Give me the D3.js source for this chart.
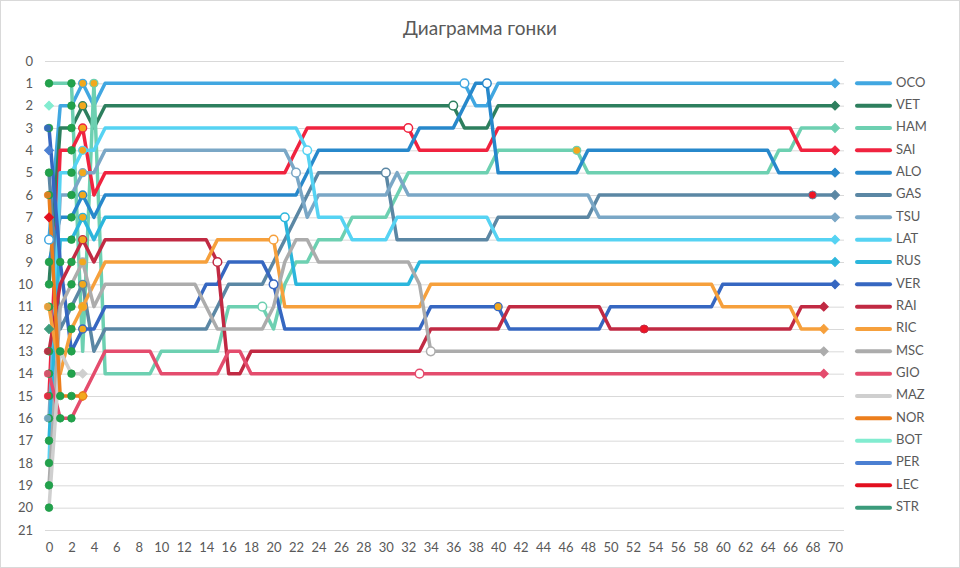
<!DOCTYPE html>
<html><head><meta charset="utf-8">
<script src="https://cdn.jsdelivr.net/npm/d3@7"></script>
<style>
body{margin:0;background:#fff;}
svg{display:block;font-family:Lato,"Open Sans","Noto Sans",sans-serif;}
</style>
</head><body>
<svg id="chart" width="960" height="568"></svg>
<script>
// ---------- DATA (lap, position) vertices per driver ----------
const drivers = ["OCO","VET","HAM","SAI","ALO","GAS","TSU","LAT","RUS","VER","RAI","RIC","MSC","GIO","MAZ","NOR","BOT","PER","LEC","STR"];
const colors  = ["#41a7e1","#2d7f5e","#6dd0b1","#f0233f","#2788cb","#5b87a4","#7aa7c6","#56d3f3","#2bb6dc","#3667c1","#c12a43","#f6a03c","#acacac","#e44c6d","#cfcfcf","#ec7e1d","#82ecd0","#4b7fd2","#e2101f","#3b9b7b"];

const OCO = [[0,8],[1,2],[2,2],[3,1],[4,2],[5,1],[37,1],[38,2],[39,2],[40,1],[70,1]];
const VET = [[0,10],[1,3],[2,3],[3,2],[4,3],[5,2],[36,2],[37,3],[39,3],[40,2],[70,2]];
const HAM = [[0,1],[1,1],[2,1],[3,13],[4,1],[5,14],[9,14],[10,13],[15,13],[16,11],[19,11],[20,12],[21,10],[22,9],[23,9],[24,8],[26,8],[27,7],[30,7],[31,6],[32,5],[39,5],[40,4],[47,4],[48,5],[64,5],[65,4],[66,4],[67,3],[70,3]];
const SAI = [[0,15],[1,4],[2,4],[3,3],[4,6],[5,5],[21,5],[22,4],[23,3],[32,3],[33,4],[39,4],[40,3],[66,3],[67,4],[70,4]];
const ALO = [[0,9],[1,7],[2,7],[3,6],[4,7],[5,6],[22,6],[23,5],[24,4],[32,4],[33,3],[36,3],[37,2],[38,1],[39,1],[40,5],[47,5],[48,4],[64,4],[65,5],[70,5]];
const GAS = [[0,5],[1,12],[2,11],[3,10],[4,13],[5,12],[14,12],[15,11],[16,10],[19,10],[20,9],[21,8],[22,7],[23,6],[24,5],[30,5],[31,8],[39,8],[40,7],[48,7],[49,6],[70,6]];
const TSU = [[0,16],[1,6],[2,6],[3,5],[4,5],[5,4],[21,4],[22,5],[23,7],[24,6],[30,6],[31,5],[32,6],[48,6],[49,7],[70,7]];
const LAT = [[0,18],[1,5],[2,5],[3,4],[4,4],[5,3],[22,3],[23,4],[24,7],[26,7],[27,8],[30,8],[31,7],[39,7],[40,8],[70,8]];
const RUS = [[0,17],[1,8],[2,8],[3,7],[4,8],[5,7],[21,7],[22,10],[32,10],[33,9],[70,9]];
const VER = [[0,3],[1,9],[2,13],[3,12],[4,12],[5,11],[13,11],[14,10],[15,10],[16,9],[19,9],[20,10],[21,12],[33,12],[34,11],[40,11],[41,12],[49,12],[50,11],[59,11],[60,10],[70,10]];
const RAI = [[0,13],[1,10],[2,9],[3,8],[4,9],[5,8],[14,8],[15,9],[16,14],[17,14],[18,13],[33,13],[34,12],[40,12],[41,11],[49,11],[50,12],[66,12],[67,11],[69,11]];
const RIC = [[0,11],[1,14],[2,12],[3,11],[4,10],[5,9],[14,9],[15,8],[20,8],[21,11],[33,11],[34,10],[59,10],[60,11],[66,11],[67,12],[69,12]];
const MSC = [[0,19],[1,11],[2,10],[3,9],[4,11],[5,10],[13,10],[14,11],[15,12],[19,12],[20,11],[21,9],[22,8],[23,8],[24,9],[32,9],[33,10],[34,13],[69,13]];
const GIO = [[0,14],[1,16],[2,16],[3,15],[4,14],[5,13],[9,13],[10,14],[15,14],[16,13],[17,13],[18,14],[69,14]];
const MAZ = [[0,20],[1,13],[2,14],[3,14]];
const NOR = [[0,6],[1,15],[2,15],[3,15]];
const BOT = [[0,2]];
const PER = [[0,4]];
const LEC = [[0,7]];
const STR = [[0,12]];
const seriesData = [OCO,VET,HAM,SAI,ALO,GAS,TSU,LAT,RUS,VER,RAI,RIC,MSC,GIO,MAZ,NOR,BOT,PER,LEC,STR];

const xTicks = d3.range(0, 71, 2);
const yTicks = d3.range(0, 22);

// markers: [driver, lap]
const pitStops  = [["OCO",0],["OCO",37],["ALO",39],["VET",36],["SAI",32],["LAT",23],["TSU",22],["GAS",30],["RUS",21],["RIC",20],["RAI",15],["VER",20],["HAM",19],["MSC",34],["GIO",33]];
const lap3Marks = [["OCO",3],["VET",3],["SAI",3],["LAT",3],["TSU",3],["ALO",3],["RUS",3],["RAI",3],["MSC",3],["GAS",3],["RIC",3],["VER",3],["NOR",3],["HAM",4],["VER",40],["HAM",47]];
const redMarks  = [["RAI",53],["GAS",68]];
const greenMarks = [["HAM",0],["VER",0],["GAS",0],["NOR",0],["ALO",0],["VET",0],["RIC",0],["RAI",0],["GIO",0],["SAI",0],["TSU",0],["RUS",0],["LAT",0],["MSC",0],["MAZ",0],
  ["VER",1],["MAZ",1],["NOR",1],["GIO",1],
  ["HAM",2],["OCO",2],["VET",2],["SAI",2],["LAT",2],["TSU",2],["ALO",2],["RUS",2],["RAI",2],["MSC",2],["GAS",2],["RIC",2],["VER",2],["MAZ",2],["NOR",2],["GIO",2]];
const startColored = [["VER",0],["NOR",0],["RIC",0],["RAI",0],["GIO",0],["SAI",0],["TSU",0]];

// ---------- DRAW ----------
const svg = d3.select("#chart");
const W = 960, H = 568;
const x = d3.scaleLinear().domain([0,70]).range([49,835]);
const y = d3.scaleLinear().domain([0,21]).range([61,530]);
const txt = "#595959";

svg.append("rect").attr("x",0.5).attr("y",0.5).attr("width",W-1).attr("height",H-1)
  .attr("fill","#fff").attr("stroke","#d9d9d9");

svg.append("text").attr("x",480).attr("y",30).attr("text-anchor","middle")
  .attr("dominant-baseline","middle").attr("fill",txt).attr("font-size",19).text("Диаграмма гонки");

// gridlines
const grid = svg.append("g").attr("transform","translate(45,0)")
  .call(d3.axisLeft(y).tickValues(yTicks).tickSize(-(844-45)).tickFormat(""));
grid.select(".domain").remove();
grid.selectAll("line").attr("stroke","#d9d9d9").attr("stroke-width",1);

// y axis labels
const ya = svg.append("g").attr("transform","translate(33,0)")
  .call(d3.axisLeft(y).tickValues(yTicks).tickSize(0).tickPadding(0));
ya.select(".domain").remove();
ya.selectAll("text").attr("fill",txt).attr("font-size",13).attr("font-family","Lato,'Open Sans',sans-serif");

// x axis labels
const xa = svg.append("g").attr("transform","translate(0,543)")
  .call(d3.axisBottom(x).tickValues(xTicks).tickSize(0).tickPadding(0));
xa.select(".domain").remove();
xa.selectAll("text").attr("fill",txt).attr("font-size",13).attr("font-family","Lato,'Open Sans',sans-serif");

const idx = n => drivers.indexOf(n);
function posAt(name, lap){
  const pts = seriesData[idx(name)];
  for (let i=0;i<pts.length;i++){
    if (pts[i][0]===lap) return pts[i][1];
    if (i>0 && pts[i-1][0]<lap && pts[i][0]>lap){
      const t=(lap-pts[i-1][0])/(pts[i][0]-pts[i-1][0]);
      return pts[i-1][1]+t*(pts[i][1]-pts[i-1][1]);
    }
  }
  return pts[pts.length-1][1];
}

const line = d3.line().x(d=>x(d[0])).y(d=>y(d[1]));
const linesG = svg.append("g");
seriesData.forEach((pts,i)=>{
  if (pts.length>1) linesG.append("path").attr("d",line(pts)).attr("fill","none")
    .attr("stroke",colors[i]).attr("stroke-width",3.5)
    .attr("stroke-linejoin","round").attr("stroke-linecap","round");
});

const mk = svg.append("g");
const diamond = d3.symbol().type(d3.symbolSquare).size(40);
// end diamonds
seriesData.forEach((pts,i)=>{
  const p = pts[pts.length-1];
  mk.append("path").attr("d",diamond())
    .attr("transform",`translate(${x(p[0])},${y(p[1])}) rotate(45)`)
    .attr("fill",colors[i]).attr("stroke",colors[i]).attr("stroke-width",1);
});
// green marks
mk.selectAll(".g").data(greenMarks).join("circle")
  .attr("cx",d=>x(d[1])).attr("cy",d=>y(posAt(d[0],d[1]))).attr("r",3.8)
  .attr("fill","#22a24c").attr("stroke","#1f9a47").attr("stroke-width",0.8);
// colored start marks (partially covered)
mk.selectAll(".s").data(startColored).join("circle")
  .attr("cx",d=>x(d[1])-1.5).attr("cy",d=>y(posAt(d[0],d[1]))).attr("r",3.6)
  .attr("fill",d=>colors[idx(d[0])]).attr("opacity",0.9);
// orange marks
mk.selectAll(".o").data(lap3Marks).join("circle")
  .attr("cx",d=>x(d[1])).attr("cy",d=>y(posAt(d[0],d[1]))).attr("r",4)
  .attr("fill","#f2a81d").attr("stroke",d=>colors[idx(d[0])]).attr("stroke-width",1.3);
// red marks
mk.selectAll(".r").data(redMarks).join("circle")
  .attr("cx",d=>x(d[1])).attr("cy",d=>y(posAt(d[0],d[1]))).attr("r",4)
  .attr("fill","#ee1424").attr("stroke",d=>colors[idx(d[0])]).attr("stroke-width",1);
// pit stops (white)
mk.selectAll(".p").data(pitStops).join("circle")
  .attr("cx",d=>x(d[1])).attr("cy",d=>y(posAt(d[0],d[1]))).attr("r",4.3)
  .attr("fill","#fff").attr("stroke",d=>colors[idx(d[0])]).attr("stroke-width",1.5);

// legend
const lg = svg.append("g");
drivers.forEach((n,i)=>{
  const yy = y(i+1);
  lg.append("line").attr("x1",857).attr("x2",890).attr("y1",yy).attr("y2",yy)
    .attr("stroke",colors[i]).attr("stroke-width",4).attr("stroke-linecap","round");
  lg.append("text").attr("x",896).attr("y",yy).attr("dominant-baseline","middle")
    .attr("fill",txt).attr("font-size",13).text(n);
});
</script>
</body></html>
